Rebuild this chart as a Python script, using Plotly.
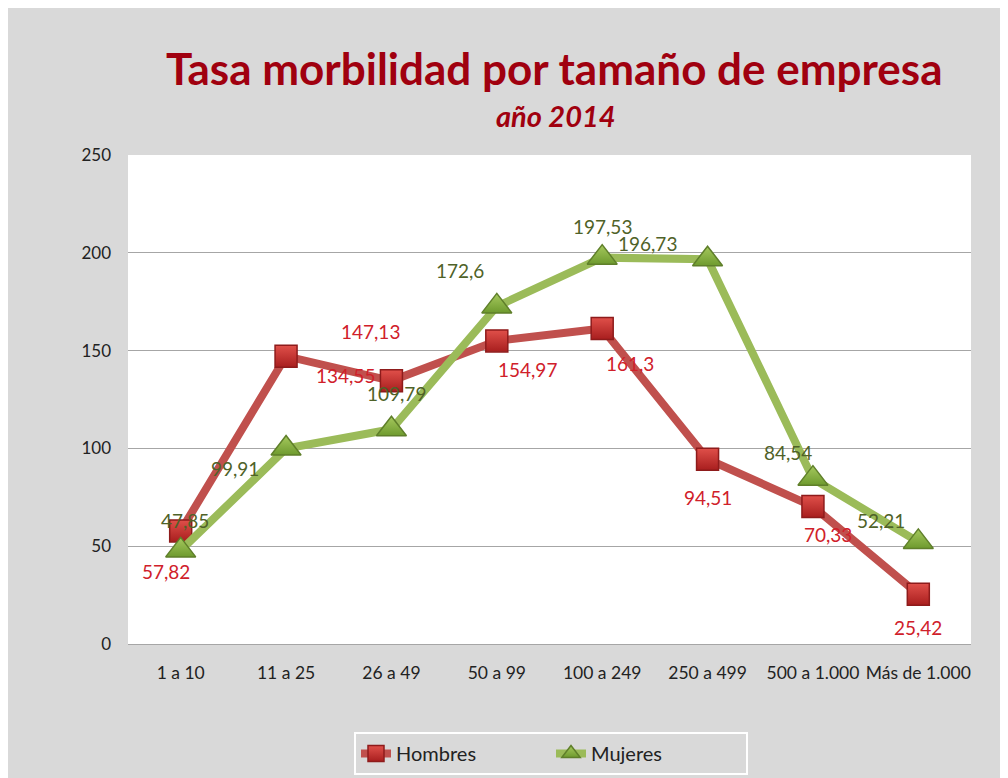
import plotly.graph_objects as go

categories = ["1 a 10", "11 a 25", "26 a 49", "50 a 99", "100 a 249", "250 a 499", "500 a 1.000", "Más de 1.000"]
hombres = [57.82, 147.13, 134.55, 154.97, 161.3, 94.51, 70.33, 25.42]
mujeres = [47.85, 99.91, 109.79, 172.6, 197.53, 196.73, 84.54, 52.21]
y_ticks = [0, 50, 100, 150, 200, 250]

# label offsets in pixels (dx, dy with dy positive = up)
hombres_label_shift = [(-15, -41), (84, 25), (-46, 5), (31, -29), (28, -35), (0, -38), (15, -28), (0, -33)]
mujeres_label_shift = [(4, 30), (-51, -20), (5, 36), (-37, 36), (0, 31), (-60, 16), (-25, 26), (-37, 21)]

FONT = "Lato, 'Open Sans', sans-serif"
BG = "#D9D9D9"
RED_LINE = "#C0504D"
GREEN_LINE = "#9BBB59"
RED_TEXT = "#D0202A"
GREEN_TEXT = "#4F6228"
TITLE_COLOR = "#A0000F"

# page has 8px body margin; plot area in page: x 128..971, y 155..645
L, T = 120, 147
PW, PH = 843, 490


def fmt(v):
    return f"{v:g}".replace(".", ",")


fig = go.Figure()
fig.add_trace(go.Scatter(
    x=categories, y=hombres, name="Hombres", mode="lines+markers",
    line=dict(color=RED_LINE, width=8),
    marker=dict(symbol="square", size=22, color="#E0504A",
                gradient=dict(type="vertical", color="#A81E1E"),
                line=dict(color="#8E1B1B", width=1.5)),
))
fig.add_trace(go.Scatter(
    x=categories, y=mujeres, name="Mujeres", mode="lines+markers",
    line=dict(color=GREEN_LINE, width=8),
    marker=dict(symbol="triangle-up", size=26, color="#A6C95E",
                gradient=dict(type="vertical", color="#6E9A2E"),
                line=dict(color="#5F7F2A", width=1.5)),
))

annotations = []
for cat, v, (dx, dy) in zip(categories, hombres, hombres_label_shift):
    annotations.append(dict(x=cat, y=v, text=fmt(v), showarrow=False, xshift=dx, yshift=dy,
                            font=dict(family=FONT, size=19, color=RED_TEXT)))
for cat, v, (dx, dy) in zip(categories, mujeres, mujeres_label_shift):
    annotations.append(dict(x=cat, y=v, text=fmt(v), showarrow=False, xshift=dx, yshift=dy,
                            font=dict(family=FONT, size=19, color=GREEN_TEXT)))

annotations.append(dict(xref="paper", yref="paper", x=(554 - 128) / PW, y=1 + (155 - 68) / PH,
                        xanchor="center", yanchor="middle",
                        text="<b>Tasa morbilidad por tamaño de empresa</b>", showarrow=False,
                        font=dict(family=FONT, size=44, color=TITLE_COLOR)))
annotations.append(dict(xref="paper", yref="paper", x=(556 - 128) / PW, y=1 + (155 - 115) / PH,
                        xanchor="center", yanchor="middle",
                        text="<b><i>año 2014</i></b>", showarrow=False,
                        font=dict(family=FONT, size=29, color=TITLE_COLOR)))

fig.update_layout(
    width=1008, height=778,
    margin=dict(l=L, r=1008 + 8 - 971, t=T, b=778 + 8 - 645),
    paper_bgcolor=BG, plot_bgcolor="white",
    font=dict(family=FONT, size=17, color="#222222"),
    showlegend=True,
    legend=dict(orientation="h", xanchor="center", x=(551 - 128) / PW, yanchor="top", y=-87 / PH,
                bgcolor=BG, bordercolor="white", borderwidth=2, entrywidth=150,
                font=dict(family=FONT, size=20, color="#222222")),
    annotations=annotations,
    xaxis=dict(type="category", range=[-0.5, 7.5], showgrid=False, showline=True,
               linecolor="#A6A6A6", linewidth=1, ticks="", tickfont=dict(size=17.5, color="#222222"),
               ticklabelstandoff=13),
    yaxis=dict(range=[0, 250], tickvals=y_ticks, showgrid=True, gridcolor="#A6A6A6", gridwidth=1,
               zeroline=False, showline=False, ticks="", tickfont=dict(size=17, color="#222222"),
               ticklabelstandoff=16),
)

fig.write_html("out.html")
